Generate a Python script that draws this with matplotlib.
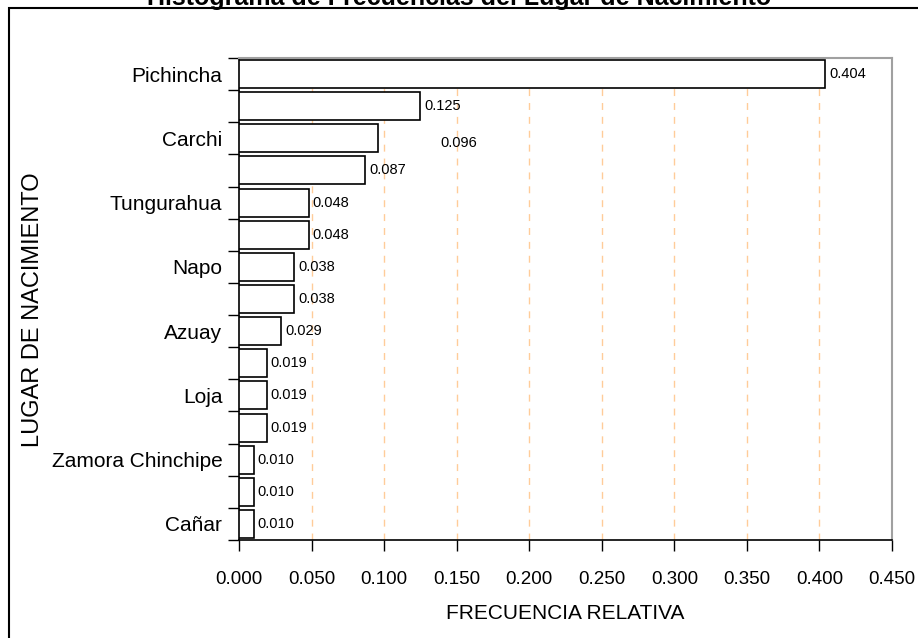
import matplotlib
matplotlib.use('Agg')
import matplotlib.pyplot as plt
import matplotlib.patches as patches
import numpy as np

# relative frequencies, top to bottom
lugares = ['Pichincha', '', 'Carchi', '', 'Tungurahua', '', 'Napo', '',
           'Azuay', '', 'Loja', '', 'Zamora Chinchipe', '', 'Cañar']
frecuencias = [0.404, 0.125, 0.096, 0.087, 0.048, 0.048, 0.038, 0.038,
               0.029, 0.019, 0.019, 0.019, 0.010, 0.010, 0.010]
etiquetas = ['0.404', '0.125', '0.096', '0.087', '0.048', '0.048', '0.038', '0.038',
             '0.029', '0.019', '0.019', '0.019', '0.010', '0.010', '0.010']
x_ticks = [0.0, 0.05, 0.10, 0.15, 0.20, 0.25, 0.30, 0.35, 0.40, 0.45]

plt.rcParams['font.family'] = ['Liberation Sans', 'DejaVu Sans']

fig = plt.figure(figsize=(9.18, 6.38), dpi=100)
ax = fig.add_axes([239/918, 1 - 540/638, (892 - 239)/918, (540 - 58)/638])

y = np.arange(len(frecuencias))
ax.barh(y, frecuencias, height=0.87, color='white', edgecolor='black',
        linewidth=1.2, zorder=3)

# value labels (the 0.096 one sits off to the side in the original)
for i, (v, t) in enumerate(zip(frecuencias, etiquetas)):
    dx, dy = 4, 0
    if i == 2:
        dx, dy = 62, -5
    ax.annotate(t, (v, i), xytext=(dx, dy), textcoords='offset pixels',
                ha='left', va='center', fontsize=10.5, zorder=4)

for xv in x_ticks[1:-1]:
    ax.axvline(xv, color='#FFCC99', linestyle=(0, (5, 5)), linewidth=1, zorder=1)

ax.set_xlim(0, 0.45)
ax.set_ylim(len(frecuencias) - 0.5, -0.5)

ax.set_xticks(x_ticks)
ax.set_xticklabels(['%.3f' % v for v in x_ticks], fontsize=13.5)
ax.tick_params(axis='x', length=8, width=1, pad=14)

ax.set_yticks(np.arange(len(frecuencias) + 1) - 0.5)
ax.set_yticklabels([])
ax.tick_params(axis='y', which='major', length=8, width=1)
ax.set_yticks(y, lugares, minor=True)
ax.tick_params(axis='y', which='minor', length=0, pad=12, labelsize=15)

for s in ['top', 'right']:
    ax.spines[s].set_color('#A0A0A0')
    ax.spines[s].set_linewidth(1.5)
for s in ['left', 'bottom']:
    ax.spines[s].set_color('black')
    ax.spines[s].set_linewidth(1.2)

ax.set_xlabel('FRECUENCIA RELATIVA', fontsize=15, labelpad=12)
fig.text(33/918, 1 - 310/638, 'LUGAR DE NACIMIENTO', rotation=90,
         ha='center', va='center', fontsize=17)

# outer frame, cut at the right and bottom edges
fig.add_artist(patches.Rectangle((9/918, -0.05), 1.1, 1.05 - 8/638,
                                 transform=fig.transFigure, fill=False,
                                 edgecolor='black', linewidth=1.5, clip_on=False))

fig.text(0.5, 1 - 5/638, 'Histograma de Frecuencias del Lugar de Nacimiento',
         ha='center', va='baseline', fontsize=18, fontweight='bold')

fig.savefig('out.png', dpi=100)
